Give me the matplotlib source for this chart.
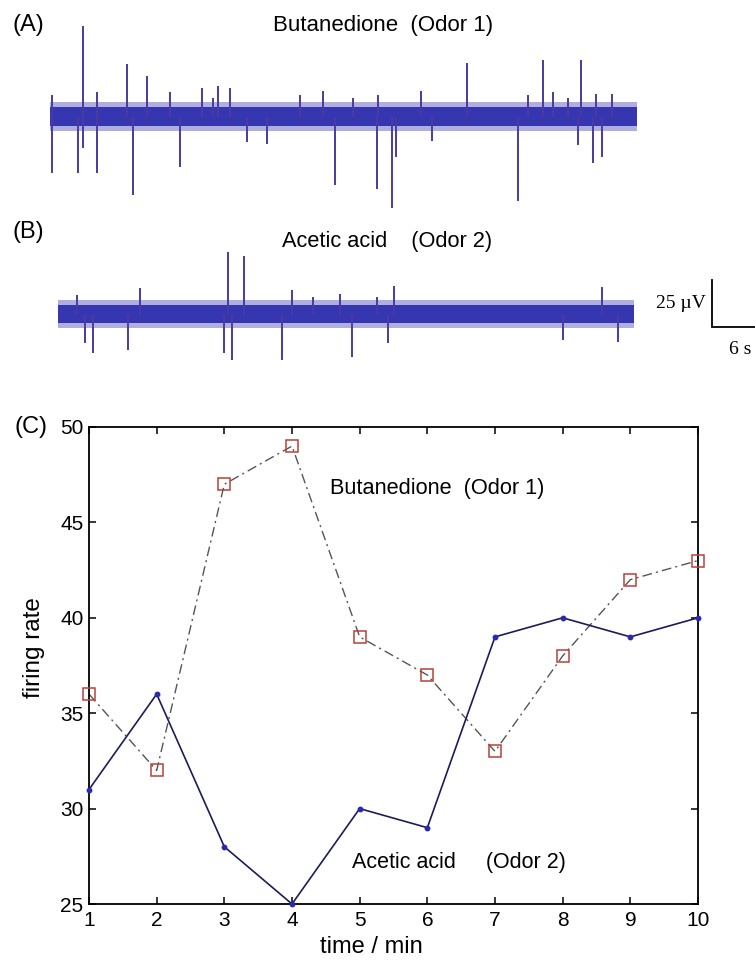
import matplotlib
matplotlib.use("Agg")
import matplotlib.pyplot as plt
import numpy as np

plt.rcParams['font.family'] = ['Liberation Sans', 'DejaVu Sans']

# ---------------- data ----------------
# Panel A: butanedione spike trace (time in s, amplitude in uV)
trace_a_span = [0.0, 60.0]
spikes_a_up_t = [0.20, 3.37, 4.80, 7.87, 9.92, 12.27, 15.54, 16.66, 17.17, 18.40, 25.55,
                 27.91, 30.97, 33.53, 37.92, 42.63, 48.86, 50.39, 51.42, 52.95, 54.28,
                 55.81, 57.45]
spikes_a_up_v = [11.2, 48.4, 12.8, 27.7, 21.3, 12.8, 15.4, 10.1, 16.0, 14.9, 11.2,
                 13.8, 10.1, 11.2, 13.8, 28.2, 11.2, 30.3, 12.8, 10.1, 29.8,
                 12.2, 12.2]
spikes_a_dn_t = [0.20, 2.86, 3.37, 4.80, 8.48, 13.29, 20.14, 22.18, 29.13, 33.43, 34.96,
                 35.37, 39.05, 47.84, 53.97, 55.50, 56.42]
spikes_a_dn_v = [-30.3, -30.3, -17.0, -30.3, -42.0, -27.1, -13.8, -14.4, -36.7, -38.3, -48.9,
                 -21.8, -12.8, -44.7, -15.4, -24.5, -21.8]

# Panel B: acetic acid spike trace
trace_b_span = [0.82, 59.70]
spikes_b_up_t = [2.76, 9.20, 18.19, 19.83, 24.74, 26.88, 29.64, 33.43, 35.16, 56.42]
spikes_b_up_v = [10.1, 13.8, 33.0, 30.9, 12.8, 9.0, 10.6, 9.0, 14.9, 14.4]
spikes_b_dn_t = [3.58, 4.40, 7.97, 17.79, 18.60, 23.71, 30.87, 34.55, 52.44, 58.06]
spikes_b_dn_v = [-15.4, -20.7, -19.2, -20.7, -24.5, -24.5, -22.9, -15.4, -13.8, -14.9]

noise_core_uv = 5.0
noise_fringe_uv = 7.5

scale_v_uv = 25
scale_t_s = 6

# Panel C: firing rate
minutes = [1, 2, 3, 4, 5, 6, 7, 8, 9, 10]
butanedione_rate = [36, 32, 47, 49, 39, 37, 33, 38, 42, 43]
acetic_rate = [31, 36, 28, 25, 30, 29, 39, 40, 39, 40]

# ---------------- layout helpers ----------------
W, H = 755, 960
fig = plt.figure(figsize=(W / 100, H / 100), dpi=100)

def fx(px):
    return px / W

def fy(py):
    return 1 - py / H

# ---------------- traces (A, B) ----------------
px_per_s = 587 / 60.0
uv_per_px = 25 / 47.0
left_px, top_px, bot_px = 50, 0, 400
ax_t = fig.add_axes([fx(left_px), fy(bot_px), fx(W - left_px), (bot_px - top_px) / H])
ax_t.set_xlim(0, (W - left_px) / px_per_s)
base_a_px = 116.5
base_b_px = 314
ax_t.set_ylim((base_a_px - bot_px) * uv_per_px, (base_a_px - top_px) * uv_per_px)
ax_t.axis('off')
off_b = -(base_b_px - base_a_px) * uv_per_px

band_col = '#3636b0'
spike_col = '#4a3aa0'

def draw_trace(span, off, ut, uv, dt, dv):
    ax_t.fill_between(span, [off - noise_fringe_uv] * 2, [off + noise_fringe_uv] * 2,
                      color=band_col, alpha=0.4, lw=0)
    ax_t.fill_between(span, [off - noise_core_uv] * 2, [off + noise_core_uv] * 2,
                      color=band_col, lw=0)
    ax_t.vlines(ut, off, np.array(uv) + off, color=spike_col, lw=1.4)
    ax_t.vlines(dt, off, np.array(dv) + off, color=spike_col, lw=1.4)

draw_trace(trace_a_span, 0.0, spikes_a_up_t, spikes_a_up_v, spikes_a_dn_t, spikes_a_dn_v)
draw_trace(trace_b_span, off_b, spikes_b_up_t, spikes_b_up_v, spikes_b_dn_t, spikes_b_dn_v)

# scale bar
sb_t = (712 - left_px) / px_per_s
sb_v0 = (base_a_px - 327) * uv_per_px
ax_t.plot([sb_t, sb_t, sb_t + scale_t_s], [sb_v0 + scale_v_uv, sb_v0, sb_v0],
          color='black', lw=1.3, clip_on=True, solid_joinstyle='miter')
serif = ['Liberation Serif', 'DejaVu Serif']
fig.text(fx(706), fy(304), f'{scale_v_uv} µV', ha='right', va='center',
         fontsize=14, family=serif)
fig.text(fx(729), fy(350), f'{scale_t_s} s', ha='left', va='center',
         fontsize=14, family=serif)

fig.text(fx(12), fy(25), '(A)', ha='left', va='center', fontsize=17)
fig.text(fx(273), fy(26), 'Butanedione  (Odor 1)', ha='left', va='center', fontsize=16)
fig.text(fx(12), fy(232), '(B)', ha='left', va='center', fontsize=17)
fig.text(fx(282), fy(241), 'Acetic acid    (Odor 2)', ha='left', va='center', fontsize=15.7)

# ---------------- panel C ----------------
axl, axr, axt, axb = 89, 698, 427, 904
ax = fig.add_axes([fx(axl), fy(axb), (axr - axl) / W, (axb - axt) / H])
ax.plot(minutes, butanedione_rate, color='#555555', lw=1.0, ls=(0, (7, 3, 1.5, 3)),
        zorder=2, clip_on=False)
ax.plot(minutes, butanedione_rate, ls='none', marker='s', ms=8.5, mfc='none',
        mec='#b8403a', mew=1.1, zorder=4, clip_on=False)
ax.plot(minutes, acetic_rate, color='#1c1c5a', lw=1.2, marker='o', ms=3.2,
        mfc='#2a2ab0', mec='#2a2ab0', zorder=3, clip_on=False)
ax.set_xlim(1, 10)
ax.set_ylim(25, 50)
ax.set_xticks(minutes)
ax.set_yticks([25, 30, 35, 40, 45, 50])
ax.tick_params(direction='in', length=5, width=1.1, top=True, right=True,
               labelsize=15, colors='black')
ax.tick_params(axis='x', pad=5)
ax.tick_params(axis='y', pad=4)
for s in ax.spines.values():
    s.set_linewidth(1.3)
ax.text(4.56, 46.8, 'Butanedione  (Odor 1)', ha='left', va='center', fontsize=15.7)
ax.text(4.89, 27.2, 'Acetic acid     (Odor 2)', ha='left', va='center', fontsize=15.5)

fig.text(fx(14), fy(427), '(C)', ha='left', va='center', fontsize=17)
fig.text(fx(34), fy(648), 'firing rate', ha='center', va='center', rotation=90, fontsize=17.5)
fig.text(fx(371), fy(958), 'time / min', ha='center', va='bottom', fontsize=17)

fig.savefig('out.png', dpi=100)
